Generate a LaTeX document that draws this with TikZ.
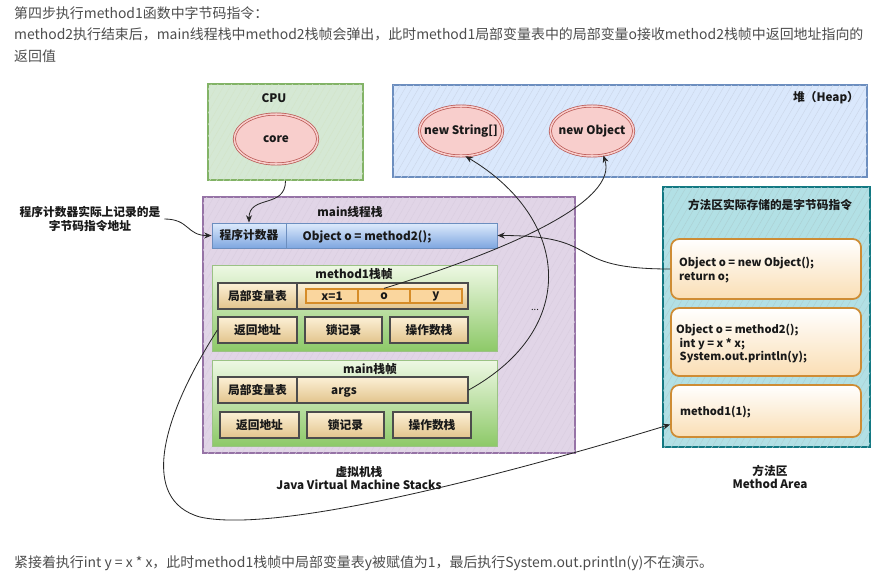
\documentclass[tikz,border=0pt]{standalone}
\usepackage{fontspec}
\setmainfont{Noto Sans CJK SC}
\usepackage{tikz}
\usetikzlibrary{shapes.geometric, arrows.meta, fit, patterns.meta}
\definecolor{ink}{RGB}{25,25,25}
\definecolor{note}{RGB}{77,77,77}
\definecolor{cpufill}{RGB}{213,232,212}
\definecolor{cpuline}{RGB}{130,179,102}
\definecolor{heapfill}{RGB}{218,232,252}
\definecolor{heapline}{RGB}{108,142,191}
\definecolor{stackfill}{RGB}{225,213,231}
\definecolor{stackline}{RGB}{150,115,166}
\definecolor{areafill}{RGB}{178,224,229}
\definecolor{arealine}{RGB}{18,120,130}
\definecolor{objfill}{RGB}{248,206,204}
\definecolor{objline}{RGB}{184,84,80}
\definecolor{pctop}{RGB}{222,235,252}
\definecolor{pcbot}{RGB}{126,166,224}
\definecolor{frametop}{RGB}{238,248,228}
\definecolor{framebot}{RGB}{141,201,104}
\definecolor{slottop}{RGB}{252,240,214}
\definecolor{slotbot}{RGB}{226,196,140}
\definecolor{cellfill}{RGB}{250,214,158}
\definecolor{cellline}{RGB}{214,140,40}
\definecolor{codeline}{RGB}{206,140,52}
\definecolor{codebot}{RGB}{250,222,180}

\begin{document}
\begin{tikzpicture}[x=0.03cm, y=-0.03cm, font=\fontsize{10}{12}\selectfont\bfseries, text=ink,
  region/.style={draw=#1, line width=1.4pt, inner sep=0pt,
    postaction={pattern={Lines[angle=60, distance=5pt, line width=0.4pt]}, pattern color=#1!35}},
  cpubox/.style={region=cpuline, fill=cpufill},
  heapbox/.style={region=heapline, fill=heapfill},
  stackbox/.style={region=stackline, fill=stackfill},
  areabox/.style={region=arealine, fill=areafill},
  tag/.style={label={center:#1}},
  obj/.style={ellipse, draw=objline, double=objfill, double distance=1.3pt, fill=objfill,
              line width=0.6pt, minimum width=2.5cm, minimum height=1.5cm, inner sep=0pt, tag=#1},
  pcbox/.style={draw=heapline, line width=0.8pt, top color=pctop, bottom color=pcbot, inner sep=0pt},
  framebox/.style={draw=cpuline!80, line width=0.8pt, top color=frametop, bottom color=framebot, inner sep=0pt},
  slot/.style={draw=black!70, line width=1.1pt, top color=slottop, bottom color=slotbot, inner sep=0pt},
  cell/.style={draw=cellline, line width=1.1pt, fill=cellfill, inner sep=0pt},
  codebox/.style={draw=codeline, line width=1.5pt, rounded corners=7pt, top color=white, bottom color=codebot, inner sep=0pt},
  code/.style={anchor=west, align=left, font=\fontsize{9.5}{11.5}\selectfont\bfseries},
  caption/.style={align=center, font=\fontsize{10}{11}\selectfont\bfseries},
  note/.style={anchor=west, text=note, font=\fontsize{11.9}{14}\selectfont},
  link/.style={-{Stealth[length=2.2mm, width=1.8mm]}, line width=0.7pt, draw=black!85}]
  \useasboundingbox (0,0) rectangle (876,579);
  \fill[white] (0,0) rectangle (876,579);

  % text above and below
  \node[note] (step) at (10,13) {第四步执行method1函数中字节码指令：};
  \node[note] (why) at (10,34) {method2执行结束后，main线程栈中method2栈帧会弹出，此时method1局部变量表中的局部变量o接收method2栈帧中返回地址指向的};
  \node[note] (why2) at (10,56) {返回值};
  \node[note] (next) at (10,563) {紧接着执行int y = x * x，此时method1栈帧中局部变量表y被赋值为1，最后执行System.out.println(y)不在演示。};

  % CPU
  \node[cpubox, fit={(208,84) (363,180)}] (cpu) {};
  \node (cputitle) at (274,98) {CPU};
  \node[obj=core] (core) at (276,139) {};

  % heap
  \node[heapbox, fit={(393,85) (867,177)}] (heap) {};
  \node (heaptitle) at (826,98) {堆（Heap）};
  \node[obj={new String[]}] (newstr) at (461,131) {};
  \node[obj={new Object}] (newobj) at (592,131) {};

  % main thread stack
  \node[stackbox, fit={(203,197) (575,453)}] (jvms) {};
  \node (jvmstitle) at (350,212) {main线程栈};
  \node[pcbox, fit={(212,223) (286,248)}, tag=程序计数器] (pcname) {};
  \node[pcbox, fit={(286,223) (497,248)}] (pcval) {};
  \node (pccode) at (367,237) {Object o = method2();};

  % method1 frame
  \node[framebox, fit={(212,265) (497,351)}] (m1) {};
  \node (m1title) at (354,274) {method1栈帧};
  \node[slot, fit={(218,283) (297,309)}, tag=局部变量表] (m1vars) {};
  \node[slot, fit={(297,283) (468,309)}] (m1vals) {};
  \node[cell, fit={(306,289) (358,303)}, tag={x=1}] (x) {};
  \node[cell, fit={(358,289) (410,303)}, tag=o] (o) {};
  \node[cell, fit={(410,289) (462,303)}, tag=y] (y) {};
  \node[slot, fit={(218,317) (297,343)}, tag=返回地址] (m1ret) {};
  \node[slot, fit={(305,317) (382,343)}, tag=锁记录] (m1lock) {};
  \node[slot, fit={(390,317) (468,343)}, tag=操作数栈] (m1ops) {};
  \node[font=\fontsize{8}{10}\selectfont] (more) at (535,310) {...};

  % main frame
  \node[framebox, fit={(212,360) (497,446)}] (mf) {};
  \node (mftitle) at (370,369) {main栈帧};
  \node[slot, fit={(218,377) (297,403)}, tag=局部变量表] (mfvars) {};
  \node[slot, fit={(297,377) (468,403)}] (mfvals) {};
  \node (args) at (344,392) {args};
  \node[slot, fit={(220,412) (299,438)}, tag=返回地址] (mfret) {};
  \node[slot, fit={(307,412) (384,438)}, tag=锁记录] (mflock) {};
  \node[slot, fit={(393,412) (471,438)}, tag=操作数栈] (mfops) {};
  \node[caption] (jvmsname) at (359,478) {虚拟机栈\\Java Virtual Machine Stacks};

  % method area
  \node[areabox, fit={(663,187) (870,447)}] (area) {};
  \node (areatitle) at (770,205) {方法区实际存储的是字节码指令};
  \node[codebox, fit={(671,239) (861,299)}] (c1) {};
  \node[code] (c1code) at (675,270) {Object o = new Object();\\return o;};
  \node[codebox, fit={(671,308) (861,376)}] (c2) {};
  \node[code] (c2code) at (672,344) {Object o = method2();\\\hspace*{3pt}int y = x * x;\\\hspace*{3pt}System.out.println(y);};
  \node[codebox, fit={(671,385) (861,437)}] (c3) {};
  \node[code] (c3code) at (676,412) {method1(1);};
  \node[caption] (areaname) at (770,477) {方法区\\Method Area};

  \node[align=center, font=\fontsize{10}{12}\selectfont\bfseries] (pcnote) at (90,219) {程序计数器实际上记录的是\\字节码指令地址};

  % arrows
  \draw[link] (cpu.south) .. controls +(0,28) and +(0,-28) .. (pcname.north);
  \draw[link] (pcnote.east) .. controls +(25,0) and +(-25,0) .. (pcname.west);
  \draw[link] (c1.west) .. controls +(-110,0) and +(110,0) .. (pcval.east);
  \draw[link] (o.north) .. controls +(130,-40) and +(15,45) .. (newobj.-65);
  \draw[link] (mfvals.east) .. controls +(112,-62) and +(104,62) .. (newstr.-80);
  \coordinate (loop) at (200,517);
  \draw[link] (m1ret.west) .. controls (160,420) and (140,500) .. (loop)
    .. controls (280,535) and (521,470) .. (c3.188);
\end{tikzpicture}
\end{document}
